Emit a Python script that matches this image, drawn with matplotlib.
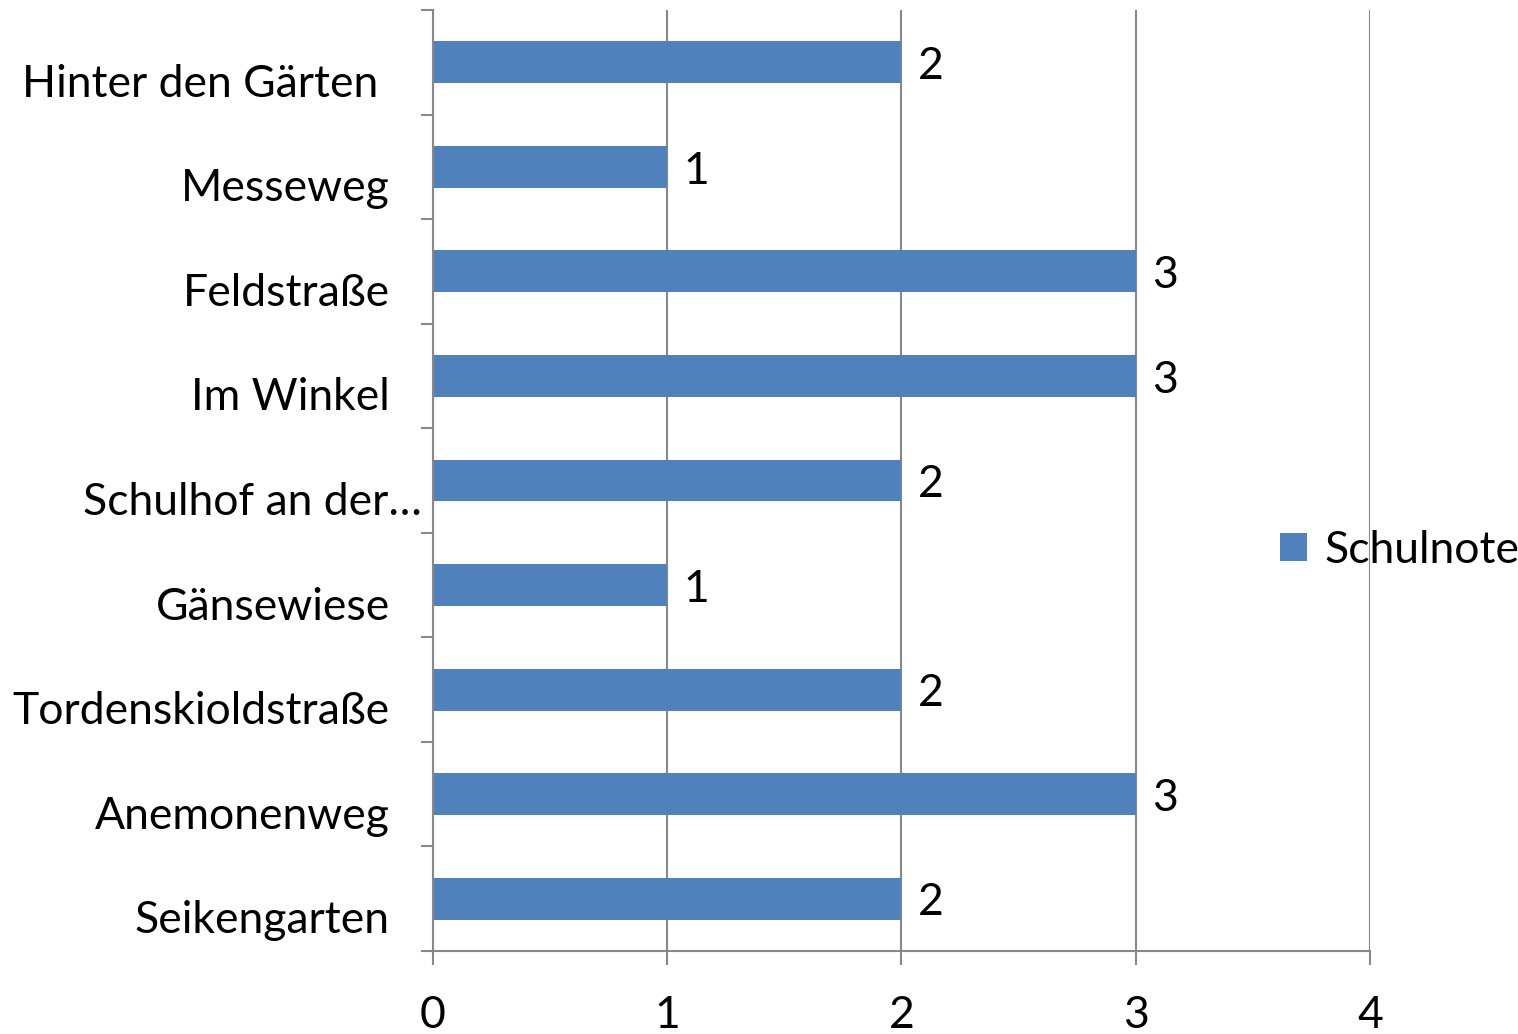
import matplotlib
matplotlib.use("Agg")
import matplotlib.pyplot as plt
import matplotlib.transforms as mtrans

# Chart data
categories = ["Hinter den Gärten", "Messeweg", "Feldstraße", "Im Winkel",
              "Schulhof an der…", "Gänsewiese", "Tordenskioldstraße",
              "Anemonenweg", "Seikengarten"]
values = [2, 1, 3, 3, 2, 1, 2, 3, 2]
x_ticks = [0, 1, 2, 3, 4]
series_name = "Schulnote"

bar_color = "#4F81BD"
grid_color = "#888888"
fs = 32

plt.rcParams['font.family'] = ['Lato', 'DejaVu Sans']

fig = plt.figure(figsize=(15.18, 10.34), dpi=100)
ax = fig.add_axes([0.2852, 0.0803, 0.9025 - 0.2852, 0.9903 - 0.0803])

ypos = list(range(len(categories)))
ax.barh(ypos, values, height=0.4, color=bar_color, label=series_name, zorder=2)

# value labels to the right of bars
for y, v in zip(ypos, values):
    ax.annotate(str(v), (v, y), xytext=(12, -3), textcoords="offset points",
                ha="left", va="center", fontsize=fs, color="black")

ax.set_xlim(0, 4)
ax.set_ylim(len(categories) - 0.5, -0.5)
ax.set_xticks(x_ticks)
ax.set_xticklabels([str(t) for t in x_ticks], fontsize=fs)
ax.tick_params(axis="x", length=10, width=1.5, color=grid_color, pad=22)

# y axis: ticks between categories, labels placed manually
ax.set_yticks([i - 0.5 for i in range(len(categories) + 1)])
ax.set_yticklabels([])
ax.tick_params(axis="y", length=9, width=1.5, color=grid_color)

trans = mtrans.blended_transform_factory(ax.transAxes, ax.transData)
for y, name in zip(ypos, categories):
    x_off = -0.012 if name.endswith("…") else -0.046
    if name == "Hinter den Gärten":
        x_off = -0.058
    ax.text(x_off, y + 0.21, name, transform=trans, ha="right", va="center",
            fontsize=fs, color="black")

ax.grid(axis="x", color=grid_color, linewidth=1.5, zorder=1)
ax.grid(axis="y", visible=False)
for s in ["top", "right"]:
    ax.spines[s].set_visible(False)
for s in ["left", "bottom"]:
    ax.spines[s].set_color(grid_color)
    ax.spines[s].set_linewidth(1.5)

leg = ax.legend(loc="center left", bbox_to_anchor=(0.8314, 0.468), frameon=False,
                fontsize=fs, handlelength=0.6, handleheight=0.6, handletextpad=0.4,
                borderaxespad=0, bbox_transform=fig.transFigure)
leg.set_zorder(0)

fig.savefig("out.png", dpi=100)
